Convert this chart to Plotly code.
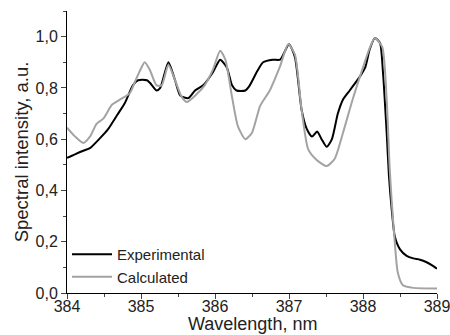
import plotly.graph_objects as go

exp_x = [384.0, 384.1, 384.22, 384.31, 384.45, 384.55, 384.68, 384.78, 384.89, 384.96, 385.08, 385.12,
         385.21, 385.26, 385.37, 385.46, 385.53, 385.64, 385.73, 385.84, 385.97, 386.07, 386.16, 386.23,
         386.29, 386.41, 386.47, 386.57, 386.65, 386.78, 386.88, 387.0, 387.08, 387.17, 387.24, 387.31,
         387.38, 387.44, 387.51, 387.58, 387.66, 387.73, 387.82, 387.96, 388.03, 388.09, 388.16, 388.23,
         388.27, 388.32, 388.35, 388.39, 388.43, 388.5, 388.59, 388.68, 388.77, 388.86, 388.95, 389.0]
exp_y = [0.527, 0.54, 0.555, 0.565, 0.605, 0.637, 0.695, 0.74, 0.81, 0.83, 0.83, 0.82,
         0.79, 0.80, 0.90, 0.83, 0.77, 0.76, 0.79, 0.81, 0.86, 0.91, 0.88, 0.81,
         0.79, 0.79, 0.81, 0.865, 0.90, 0.91, 0.91, 0.97, 0.92, 0.715, 0.64, 0.61,
         0.63, 0.60, 0.57, 0.60, 0.70, 0.755, 0.79, 0.845, 0.88, 0.95, 0.995, 0.975,
         0.86, 0.625, 0.46, 0.32, 0.22, 0.17, 0.145, 0.135, 0.13, 0.12, 0.105, 0.095]

calc_x = [384.0, 384.11, 384.22, 384.31, 384.4, 384.49, 384.61, 384.72, 384.85, 384.92, 384.99, 385.05,
          385.12, 385.21, 385.28, 385.37, 385.46, 385.55, 385.62, 385.75, 385.86, 385.97, 386.07, 386.14,
          386.23, 386.31, 386.41, 386.5, 386.61, 386.74, 386.88, 386.99, 387.08, 387.17, 387.26, 387.37,
          387.51, 387.62, 387.73, 387.86, 388.0, 388.09, 388.16, 388.26, 388.32, 388.36, 388.39, 388.43,
          388.47, 388.54, 388.68, 389.0]
calc_y = [0.645, 0.61, 0.585, 0.61, 0.66, 0.68, 0.735, 0.755, 0.78, 0.825, 0.87, 0.90,
          0.87, 0.81, 0.81, 0.89, 0.83, 0.765, 0.745, 0.775, 0.81, 0.87, 0.945, 0.91,
          0.765, 0.65, 0.60, 0.625, 0.73, 0.79, 0.885, 0.97, 0.93, 0.715, 0.56, 0.52,
          0.495, 0.525, 0.625, 0.755, 0.88, 0.955, 0.995, 0.96, 0.755, 0.49, 0.35, 0.195,
          0.08, 0.03, 0.02, 0.018]

x_ticks = [384, 385, 386, 387, 388, 389]
y_ticks = [0.0, 0.2, 0.4, 0.6, 0.8, 1.0]
y_labels = ["0,0", "0,2", "0,4", "0,6", "0,8", "1,0"]
x_title = "Wavelength, nm"
y_title = "Spectral intensity, a.u."

font = "Arial, Liberation Sans, sans-serif"

fig = go.Figure()
fig.add_trace(go.Scatter(x=exp_x, y=exp_y, mode="lines", name="Experimental",
                         line=dict(color="black", width=2, shape="spline", smoothing=0.6)))
fig.add_trace(go.Scatter(x=calc_x, y=calc_y, mode="lines", name="Calculated",
                         line=dict(color="#a3a3a3", width=2, shape="spline", smoothing=0.6)))

fig.add_annotation(text=x_title, xref="paper", yref="paper", x=0.5, y=-0.068,
                   xanchor="center", yanchor="top", showarrow=False,
                   font=dict(size=18, color="#222"))

fig.update_layout(
    width=450, height=335,
    margin=dict(l=67, r=13, t=11, b=42),
    paper_bgcolor="white", plot_bgcolor="white",
    font=dict(family=font, size=16, color="#222"),
    showlegend=True,
    legend=dict(x=0.0, y=0.0, xanchor="left", yanchor="bottom",
                bgcolor="rgba(0,0,0,0)", font=dict(size=15, color="#222"),
                itemwidth=40, tracegroupgap=0),
    xaxis=dict(range=[384, 389], tickvals=x_ticks, ticks="outside", ticklen=5,
               showline=True, linecolor="black", linewidth=1, showgrid=False, zeroline=False,
               minor=dict(dtick=0.5, ticks="outside", ticklen=3, showgrid=False),
               tickfont=dict(size=16), automargin=False, ticklabeloverflow="allow",
               ticklabelstandoff=-6),
    yaxis=dict(range=[0, 1.1], tickvals=y_ticks, ticktext=y_labels, ticks="outside", ticklen=5,
               showline=True, linecolor="black", linewidth=1, showgrid=False, zeroline=False,
               minor=dict(dtick=0.1, ticks="outside", ticklen=3, showgrid=False),
               title=dict(text=y_title, font=dict(size=18.5), standoff=2),
               tickfont=dict(size=16), automargin=False),
)

fig.write_html("out.html")
